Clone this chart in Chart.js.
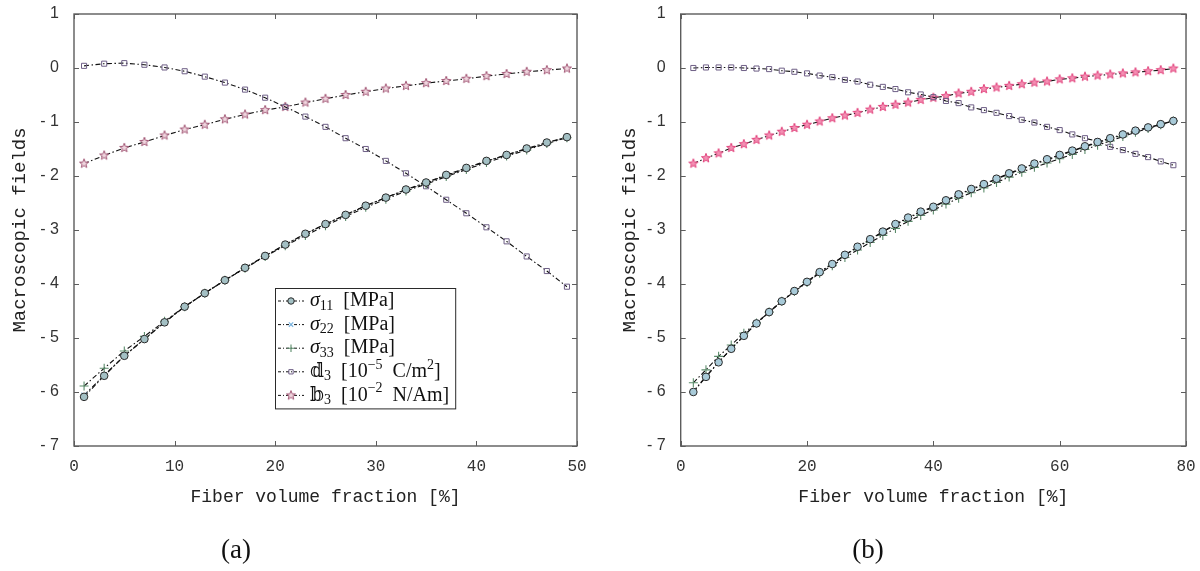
<!DOCTYPE html>
<html>
<head>
<meta charset="utf-8">
<script src="https://cdn.jsdelivr.net/npm/chart.js@4/dist/chart.umd.min.js"></script>
<style>
  html, body { margin: 0; padding: 0; background: #fff; }
  #wrap { position: relative; width: 1200px; height: 571px; overflow: hidden; }
  canvas { position: absolute; top: 0; }
  #chartA { left: 0; }
  #chartB { left: 600px; }
  .cap { position: absolute; top: 534px; transform: translateX(-50%);
         font-family: "Liberation Serif", "Times New Roman", serif; font-size: 27px; color: #111; }
</style>
</head>
<body>
<div id="wrap">
  <canvas id="chartA" width="600" height="571"></canvas>
  <canvas id="chartB" width="600" height="571"></canvas>
  <div class="cap" style="left:236px">(a)</div>
  <div class="cap" style="left:868px">(b)</div>
</div>
<script>
// ---------- data: panel (a) ----------
const fracA = [1, 3, 5, 7, 9, 11, 13, 15, 17, 19, 21, 23, 25, 27, 29, 31, 33, 35, 37, 39, 41, 43, 45, 47, 49];
const sigma11A = [-6.09, -5.70, -5.33, -5.02, -4.71, -4.42, -4.17, -3.93, -3.70, -3.48, -3.27, -3.07, -2.89,
                  -2.72, -2.55, -2.40, -2.25, -2.12, -1.98, -1.85, -1.72, -1.61, -1.49, -1.38, -1.28];
const sigma22A = [-6.06, -5.69, -5.33, -5.02, -4.71, -4.42, -4.17, -3.93, -3.70, -3.48, -3.27, -3.07, -2.89,
                  -2.72, -2.55, -2.40, -2.26, -2.13, -1.99, -1.86, -1.73, -1.61, -1.50, -1.39, -1.28];
const sigma33A = [-5.89, -5.56, -5.24, -4.97, -4.69, -4.42, -4.17, -3.93, -3.71, -3.49, -3.29, -3.10, -2.92,
                  -2.75, -2.58, -2.43, -2.28, -2.15, -2.01, -1.88, -1.75, -1.63, -1.52, -1.40, -1.29];
const d3A = [0.04, 0.08, 0.09, 0.06, 0.01, -0.06, -0.16, -0.27, -0.40, -0.55, -0.72, -0.90, -1.09,
             -1.30, -1.50, -1.72, -1.95, -2.19, -2.44, -2.69, -2.95, -3.21, -3.49, -3.76, -4.05];
const b3A = [-1.77, -1.62, -1.48, -1.37, -1.25, -1.14, -1.05, -0.95, -0.86, -0.78, -0.72, -0.64, -0.57,
             -0.50, -0.44, -0.38, -0.33, -0.28, -0.24, -0.20, -0.15, -0.11, -0.07, -0.04, -0.01];

// ---------- data: panel (b) ----------
const fracB = [2, 4, 6, 8, 10, 12, 14, 16, 18, 20, 22, 24, 26, 28, 30, 32, 34, 36, 38, 40,
               42, 44, 46, 48, 50, 52, 54, 56, 58, 60, 62, 64, 66, 68, 70, 72, 74, 76, 78];
const sigma11B = [-6.00, -5.72, -5.45, -5.20, -4.96, -4.73, -4.52, -4.32, -4.13, -3.96, -3.78, -3.63, -3.46,
                  -3.31, -3.17, -3.03, -2.89, -2.77, -2.66, -2.57, -2.45, -2.34, -2.24, -2.15, -2.05, -1.95,
                  -1.86, -1.77, -1.69, -1.61, -1.53, -1.45, -1.37, -1.30, -1.23, -1.16, -1.10, -1.04, -0.98];
const sigma22B = [-5.99, -5.71, -5.45, -5.20, -4.96, -4.73, -4.52, -4.32, -4.13, -3.96, -3.78, -3.63, -3.47,
                  -3.32, -3.18, -3.04, -2.90, -2.78, -2.67, -2.58, -2.46, -2.35, -2.25, -2.16, -2.06, -1.96,
                  -1.87, -1.78, -1.70, -1.62, -1.54, -1.46, -1.38, -1.31, -1.24, -1.17, -1.11, -1.05, -0.98];
const sigma33B = [-5.83, -5.59, -5.34, -5.13, -4.91, -4.72, -4.52, -4.32, -4.14, -3.97, -3.80, -3.66, -3.51,
                  -3.37, -3.23, -3.10, -2.97, -2.84, -2.73, -2.63, -2.52, -2.41, -2.31, -2.22, -2.12, -2.02,
                  -1.93, -1.84, -1.76, -1.68, -1.60, -1.51, -1.43, -1.35, -1.27, -1.19, -1.12, -1.05, -0.98];
const d3B = [0.00, 0.01, 0.01, 0.01, 0.00, -0.01, -0.02, -0.05, -0.07, -0.10, -0.14, -0.17, -0.22,
             -0.25, -0.31, -0.35, -0.39, -0.45, -0.49, -0.54, -0.61, -0.65, -0.73, -0.78, -0.83, -0.89,
             -0.96, -1.01, -1.09, -1.15, -1.23, -1.30, -1.36, -1.46, -1.52, -1.59, -1.65, -1.73, -1.80];
const b3B = [-1.77, -1.67, -1.58, -1.48, -1.41, -1.33, -1.25, -1.18, -1.11, -1.05, -0.99, -0.93, -0.88,
             -0.83, -0.77, -0.72, -0.68, -0.64, -0.59, -0.55, -0.52, -0.47, -0.44, -0.39, -0.36, -0.33,
             -0.30, -0.27, -0.25, -0.21, -0.19, -0.16, -0.14, -0.12, -0.10, -0.08, -0.06, -0.04, -0.01];

// ---------- axes ----------
const xTicksA = [0, 10, 20, 30, 40, 50];
const xTicksB = [0, 20, 40, 60, 80];
const yTicks = [1, 0, -1, -2, -3, -4, -5, -6, -7];
const xTitle = 'Fiber volume fraction [%]';
const yTitle = 'Macroscopic fields';

// series names (plain) and their typeset legend pieces
const seriesNames = ['σ11 [MPa]', 'σ22 [MPa]', 'σ33 [MPa]', 'd3 [10-5 C/m2]', 'b3 [10-2 N/Am]'];
const legendPieces = [
  [{t: 'σ', it: true}, {t: '11', sub: true}, {t: '  [MPa]'}],
  [{t: 'σ', it: true}, {t: '22', sub: true}, {t: '  [MPa]'}],
  [{t: 'σ', it: true}, {t: '33', sub: true}, {t: '  [MPa]'}],
  [{t: '𝕕'}, {t: '3', sub: true}, {t: '  [10'}, {t: '−5', sup: true}, {t: '  C/m'}, {t: '2', sup: true}, {t: ']'}],
  [{t: '𝕓'}, {t: '3', sub: true}, {t: '  [10'}, {t: '−2', sup: true}, {t: '  N/Am]'}]
];

// five-pointed star marker rendered once to an offscreen canvas
function starMarker(r, stroke, fill) {
  const s = Math.ceil(r * 2 + 4);
  const c = document.createElement('canvas');
  c.width = c.height = s;
  const g = c.getContext('2d');
  g.beginPath();
  for (let k = 0; k < 10; k++) {
    const a = -Math.PI / 2 + k * Math.PI / 5;
    const rr = k % 2 ? r * 0.42 : r;
    g.lineTo(s / 2 + rr * Math.cos(a), s / 2 + rr * Math.sin(a));
  }
  g.closePath();
  g.fillStyle = fill; g.fill();
  g.lineWidth = 1; g.strokeStyle = stroke; g.stroke();
  return c;
}

const lineStyle = { borderColor: '#111', borderWidth: 1.1, borderDash: [5, 2.5, 1.5, 2.5], tension: 0, fill: false };

function series(name, xs, ys, marker) {
  return Object.assign({ label: name, data: xs.map((x, i) => ({ x: x, y: ys[i] })) }, lineStyle, marker);
}

function markers(circleFill, starStroke, starFill) {
  return [
    { pointStyle: 'circle', pointRadius: 3.8, pointBorderWidth: 1, pointBorderColor: '#2a2a2a', pointBackgroundColor: circleFill },
    { pointStyle: 'crossRot', pointRadius: 3.6, pointBorderWidth: 1.2, pointBorderColor: '#7ab4e0', pointBackgroundColor: '#7ab4e0' },
    { pointStyle: 'cross', pointRadius: 4.5, pointBorderWidth: 1.1, pointBorderColor: '#5b8c6b', pointBackgroundColor: '#5b8c6b' },
    { pointStyle: 'rect', pointRadius: 3.6, pointBorderWidth: 1, pointBorderColor: '#6e5f86', pointBackgroundColor: 'rgba(255,255,255,0)' },
    { pointStyle: starMarker(4.8, starStroke, starFill), pointRadius: 5 }
  ];
}

// axes box with inward tick marks on all four sides
const framePlugin = {
  id: 'frame',
  beforeDatasetsDraw(chart) {
    const { ctx, chartArea: { left, top, right, bottom }, scales: { x, y } } = chart;
    const L = 5;
    ctx.save();
    ctx.strokeStyle = '#5c5c5c';
    ctx.lineWidth = 1.4;
    ctx.strokeRect(left, top, right - left, bottom - top);
    ctx.beginPath();
    x.ticks.forEach(t => {
      const p = Math.round(x.getPixelForValue(t.value)) + 0.5;
      ctx.moveTo(p, bottom); ctx.lineTo(p, bottom - L);
      ctx.moveTo(p, top); ctx.lineTo(p, top + L);
    });
    y.ticks.forEach(t => {
      const p = Math.round(y.getPixelForValue(t.value)) + 0.5;
      ctx.moveTo(left, p); ctx.lineTo(left + L, p);
      ctx.moveTo(right, p); ctx.lineTo(right - L, p);
    });
    ctx.lineWidth = 1;
    ctx.stroke();
    ctx.restore();
  }
};

// boxed legend with typeset labels
const mathLegend = {
  id: 'mathLegend',
  afterDatasetsDraw(chart, args, o) {
    const ctx = chart.ctx;
    const fam = '"Liberation Serif", "DejaVu Serif", serif';
    const big = o.fontSize, small = Math.round(o.fontSize * 0.7);
    const measure = parts => parts.reduce((w, p) => {
      ctx.font = (p.it ? 'italic ' : '') + ((p.sub || p.sup) ? small : big) + 'px ' + fam;
      return w + ctx.measureText(p.t).width;
    }, 0);
    const textX = o.left + o.textOffset;
    const widest = Math.max(...legendPieces.map(measure));
    const w = textX - o.left + widest + 6;
    const h = o.rowGap * (legendPieces.length - 1) + o.firstRow * 2;
    ctx.save();
    ctx.fillStyle = '#fff';
    ctx.fillRect(o.left, o.top, w, h);
    ctx.strokeStyle = '#2a2a2a';
    ctx.lineWidth = 1;
    ctx.strokeRect(o.left + 0.5, o.top + 0.5, w, h);
    chart.data.datasets.forEach((ds, i) => {
      const cy = o.top + o.firstRow + i * o.rowGap;
      const mx = o.left + o.markerOffset;
      ctx.save();
      ctx.strokeStyle = ds.borderColor;
      ctx.lineWidth = 1;
      ctx.setLineDash([3, 2, 1, 2]);
      ctx.beginPath();
      ctx.moveTo(mx - 13, cy); ctx.lineTo(mx + 13, cy);
      ctx.stroke();
      ctx.restore();
      ctx.save();
      ctx.strokeStyle = ds.pointBorderColor || '#000';
      ctx.fillStyle = ds.pointBackgroundColor || '#fff';
      ctx.lineWidth = ds.pointBorderWidth || 1;
      Chart.helpers.drawPoint(ctx, { pointStyle: ds.pointStyle, radius: (ds.pointRadius || 3) * 0.85, borderWidth: ds.pointBorderWidth || 1, rotation: 0 }, mx, cy);
      ctx.restore();
      let x = textX;
      ctx.fillStyle = '#111';
      ctx.textBaseline = 'middle';
      ctx.textAlign = 'left';
      legendPieces[i].forEach(p => {
        ctx.font = (p.it ? 'italic ' : '') + ((p.sub || p.sup) ? small : big) + 'px ' + fam;
        const dy = p.sub ? big * 0.25 : (p.sup ? -big * 0.33 : 0);
        ctx.fillText(p.t, x, cy + dy);
        x += ctx.measureText(p.t).width;
      });
    });
    ctx.restore();
  }
};

function yTickLabel(v) { return v < 0 ? '- ' + (-v) : String(v); }

function makePanel(id, xs, s11, s22, s33, d3, b3, xTicks, xMax, markerSet, box, legendBox) {
  const m = markerSet;
  const datasets = [
    series(seriesNames[0], xs, s11, m[0]),
    series(seriesNames[1], xs, s22, m[1]),
    series(seriesNames[2], xs, s33, m[2]),
    series(seriesNames[3], xs, d3, m[3]),
    series(seriesNames[4], xs, b3, m[4])
  ];
  const mono = '"Liberation Mono", "DejaVu Sans Mono", monospace';
  return new Chart(document.getElementById(id), {
    type: 'line',
    data: { datasets },
    plugins: [framePlugin, mathLegend],
    options: {
      responsive: false,
      animation: false,
      devicePixelRatio: 1,
      layout: { padding: { left: box.padLeft, top: 14, right: box.padRight, bottom: 59 } },
      plugins: { legend: { display: false }, tooltip: { enabled: false }, mathLegend: legendBox },
      scales: {
        x: {
          type: 'linear', min: 0, max: xMax,
          grid: { display: false }, border: { display: false },
          afterBuildTicks: s => { s.ticks = xTicks.map(v => ({ value: v })); },
          afterFit: s => { s.height = 66; s.paddingLeft = 0; s.paddingRight = 0; },
          ticks: { padding: 3, color: '#333', font: { family: mono, size: 16 }, maxRotation: 0 },
          title: { display: true, text: xTitle, color: '#222', padding: { top: 0, bottom: 4 },
                   font: { family: mono, size: 18 } }
        },
        y: {
          type: 'linear', min: -7, max: 1,
          grid: { display: false }, border: { display: false },
          afterBuildTicks: s => { s.ticks = yTicks.map(v => ({ value: v })); },
          afterFit: s => { s.width = box.yWidth; s.paddingTop = 0; s.paddingBottom = 0; },
          ticks: { padding: 7, color: '#333', callback: yTickLabel,
                   font: { family: '"Liberation Sans", Arial, sans-serif', size: 16 } },
          title: { display: true, text: yTitle, color: '#222', padding: { top: box.titlePad, bottom: 0 },
                   font: { family: mono, size: 19 } }
        }
      }
    }
  });
}

makePanel('chartA', fracA, sigma11A, sigma22A, sigma33A, d3A, b3A, xTicksA, 50,
  markers('#a3c0c4', '#a45a78', '#f0d6df'),
  { padLeft: 0, padRight: 23, yWidth: 74, titlePad: 9 },
  { left: 275, top: 288, firstRow: 13, rowGap: 23.6, markerOffset: 16, textOffset: 35, fontSize: 20 });

makePanel('chartB', fracB, sigma11B, sigma22B, sigma33B, d3B, b3B, xTicksB, 80,
  markers('#a8cad8', '#e2457e', '#f490b4'),
  { padLeft: 0, padRight: 14, yWidth: 80.7, titlePad: 19 },
  { left: 894, top: 282, firstRow: 13, rowGap: 24, markerOffset: 19, textOffset: 36, fontSize: 22.5 });
</script>
</body>
</html>
